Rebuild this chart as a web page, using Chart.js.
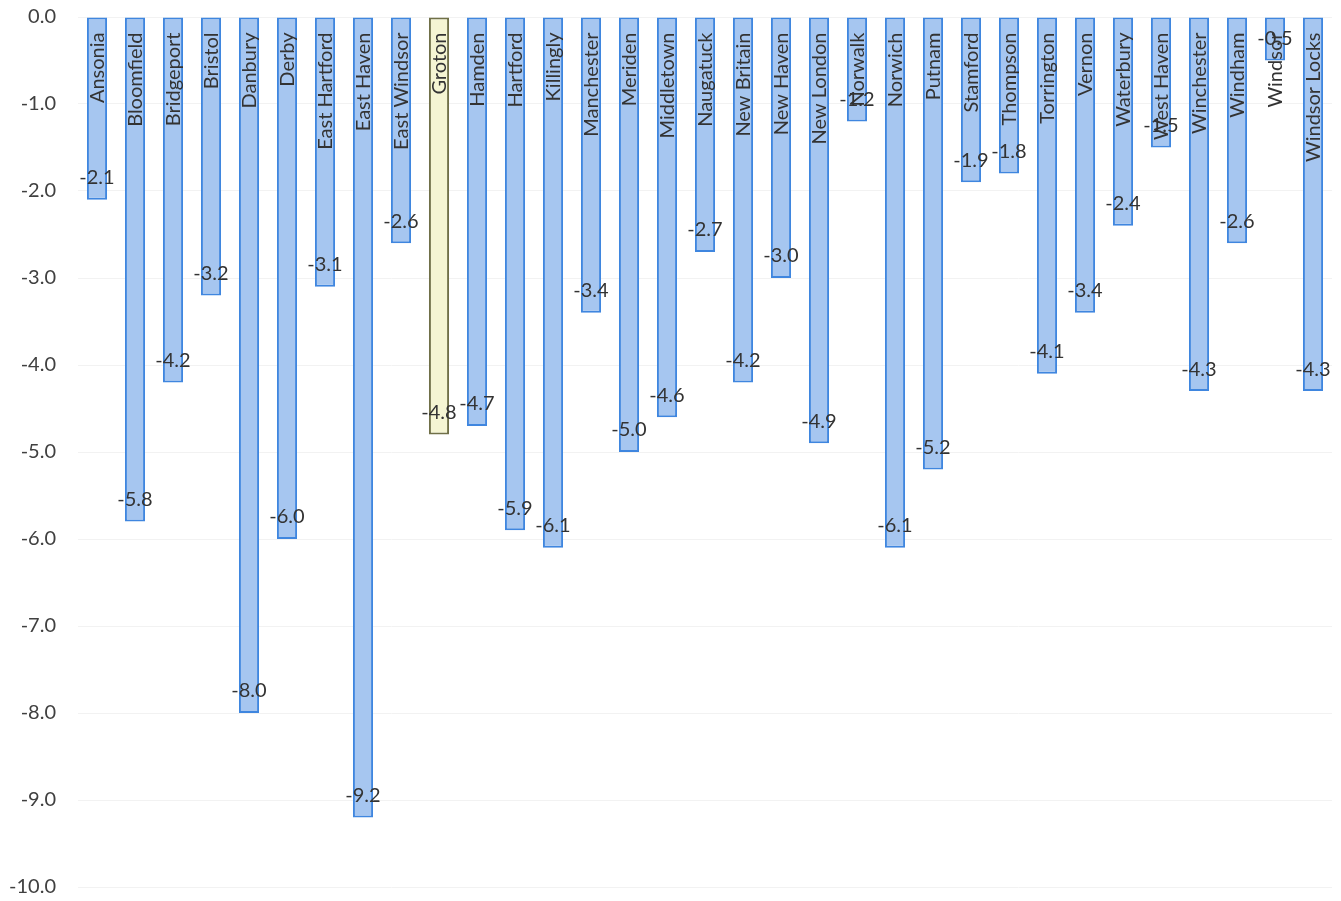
<!DOCTYPE html>
<html>
<head>
<meta charset="utf-8">
<script src="https://cdn.jsdelivr.net/npm/chart.js@4/dist/chart.umd.min.js"></script>
<style>
html,body{margin:0;padding:0;background:#fff;}
#wrap{width:1341px;height:901px;position:relative;}
</style>
</head>
<body>
<div id="wrap"><canvas id="c" width="1341" height="901"></canvas></div>
<script>
const categories = ["Ansonia","Bloomfield","Bridgeport","Bristol","Danbury","Derby","East Hartford","East Haven","East Windsor","Groton","Hamden","Hartford","Killingly","Manchester","Meriden","Middletown","Naugatuck","New Britain","New Haven","New London","Norwalk","Norwich","Putnam","Stamford","Thompson","Torrington","Vernon","Waterbury","West Haven","Winchester","Windham","Windsor","Windsor Locks"];
const values = [-2.1,-5.8,-4.2,-3.2,-8.0,-6.0,-3.1,-9.2,-2.6,-4.8,-4.7,-5.9,-6.1,-3.4,-5.0,-4.6,-2.7,-4.2,-3.0,-4.9,-1.2,-6.1,-5.2,-1.9,-1.8,-4.1,-3.4,-2.4,-1.5,-4.3,-2.6,-0.5,-4.3];
const highlighted = ["Groton"];
const yTicks = [0,-1,-2,-3,-4,-5,-6,-7,-8,-9,-10];

const FONT = "Lato, 'Open Sans', sans-serif";

const labelPlugin = {
  id: 'barLabels',
  afterDatasetsDraw(chart) {
    const ctx = chart.ctx;
    const meta = chart.getDatasetMeta(0);
    ctx.save();
    meta.data.forEach((bar, i) => {
      ctx.save();
      ctx.translate(bar.x, bar.base + 15);
      ctx.rotate(-Math.PI / 2);
      ctx.font = "20px " + FONT;
      ctx.fillStyle = "#333333";
      ctx.textAlign = "right";
      ctx.textBaseline = "middle";
      ctx.fillText(categories[i], 0, 1);
      ctx.restore();
      ctx.font = "20px " + FONT;
      ctx.fillStyle = "#333333";
      ctx.textAlign = "center";
      ctx.textBaseline = "middle";
      ctx.fillText(values[i].toFixed(1), bar.x, bar.y - 22);
    });
    ctx.restore();
  }
};

new Chart(document.getElementById('c'), {
  type: 'bar',
  data: {
    labels: categories,
    datasets: [{
      data: values,
      backgroundColor: categories.map(c => highlighted.includes(c) ? '#f5f5d3' : '#a6c6f0'),
      borderColor: categories.map(c => highlighted.includes(c) ? '#707048' : '#3f86df'),
      borderWidth: 2,
      borderSkipped: false,
      barPercentage: 0.53,
      categoryPercentage: 1.0
    }]
  },
  options: {
    responsive: false,
    animation: false,
    layout: { padding: { top: 17, bottom: 14, right: 9, left: 0 } },
    plugins: { legend: { display: false }, tooltip: { enabled: false } },
    scales: {
      x: { display: false },
      y: {
        min: -10, max: 0,
        afterBuildTicks(scale) { scale.ticks = yTicks.map(v => ({ value: v })); },
        afterFit(scale) { scale.width = 78; scale.paddingTop = 0; scale.paddingBottom = 0; },
        border: { display: false },
        grid: { color: '#f2f2f2', drawTicks: false, lineWidth: 1 },
        ticks: {
          padding: 22,
          color: '#404040',
          font: { family: FONT, size: 20 },
          callback: v => Number(v).toFixed(1)
        }
      }
    }
  },
  plugins: [labelPlugin]
});
</script>
</body>
</html>
